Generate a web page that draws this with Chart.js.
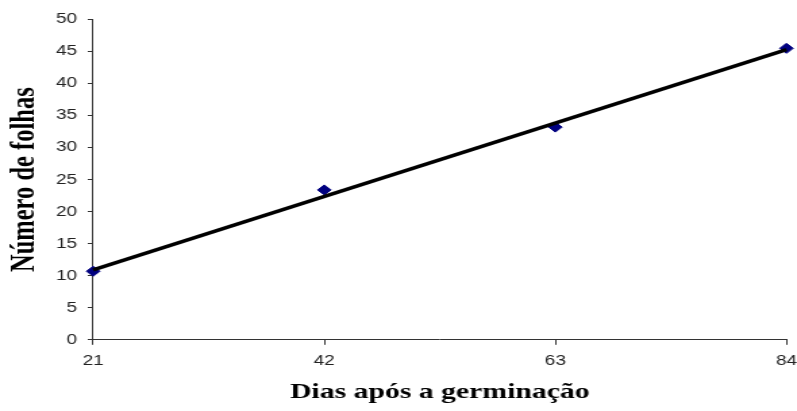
<!DOCTYPE html>
<html><head><meta charset="utf-8">
<script src="https://cdn.jsdelivr.net/npm/chart.js@4"></script>
<style>
html,body{margin:0;padding:0;background:#fff;overflow:hidden}
#wrap{position:absolute;left:0;top:0;width:590px;height:411px;transform:scaleX(1.3508);transform-origin:0 0}
</style></head><body>
<div id="wrap"><canvas id="c"></canvas></div>
<script>
const days = [21, 42, 63, 84];
const leaves = [10.7, 23.4, 33.2, 45.5];
const trendX = [21, 84];
const trendY = [10.9, 45.3];
const xTicks = [21, 42, 63, 84];
const yTicks = [0, 5, 10, 15, 20, 25, 30, 35, 40, 45, 50];
const xTitle = 'Dias após a germinação';
const yTitle = 'Número de folhas';

const axisColor = '#333';
const tickFont = {family: '"Liberation Sans", Arial, sans-serif', size: 14};
const xTitleFont = {family: '"Liberation Serif", "Times New Roman", serif', size: 22, weight: 'bold'};
const yTitleFont = {family: '"Liberation Serif", "Times New Roman", serif', size: 24.5, weight: 'bold'};
const xTickPad = 8;

new Chart(document.getElementById('c'), {
  type: 'scatter',
  data: {
    datasets: [
      {
        type: 'line',
        data: trendX.map((x, i) => ({x, y: trendY[i]})),
        borderColor: '#000',
        borderWidth: 3.5,
        pointRadius: 0,
        fill: false,
        clip: false,
        order: 0
      },
      {
        data: days.map((x, i) => ({x, y: leaves[i]})),
        pointStyle: 'rectRot',
        pointRadius: 5,
        backgroundColor: '#000080',
        borderColor: '#000080',
        borderWidth: 1,
        clip: false,
        order: 1
      }
    ]
  },
  options: {
    responsive: true,
    maintainAspectRatio: false,
    animation: false,
    layout: {autoPadding: false, padding: {top: 19.5, right: 0, left: 2, bottom: 0}},
    plugins: {legend: {display: false}, tooltip: {enabled: false}},
    scales: {
      x: {
        type: 'linear',
        min: 21, max: 84,
        afterBuildTicks: s => { s.ticks = xTicks.map(v => ({value: v})); },
        afterFit: s => { s.paddingRight = Math.max(s.paddingRight - xTickPad, 0); },
        border: {display: true, color: axisColor, width: 1},
        grid: {drawOnChartArea: false, drawTicks: true, tickLength: 5, color: axisColor},
        ticks: {font: tickFont, color: '#222', padding: xTickPad, maxRotation: 0, autoSkip: false},
        title: {display: true, text: xTitle, font: xTitleFont, color: '#000', padding: {top: 2, bottom: 5}}
      },
      y: {
        min: 0, max: 50,
        afterBuildTicks: s => { s.ticks = yTicks.map(v => ({value: v})); },
        border: {display: true, color: axisColor, width: 1},
        grid: {drawOnChartArea: false, drawTicks: true, tickLength: 4, color: axisColor},
        ticks: {font: tickFont, color: '#222', padding: 8},
        title: {display: true, text: yTitle, font: yTitleFont, color: '#000', padding: {top: 2, bottom: 0}}
      }
    }
  }
});
</script>
</body></html>
